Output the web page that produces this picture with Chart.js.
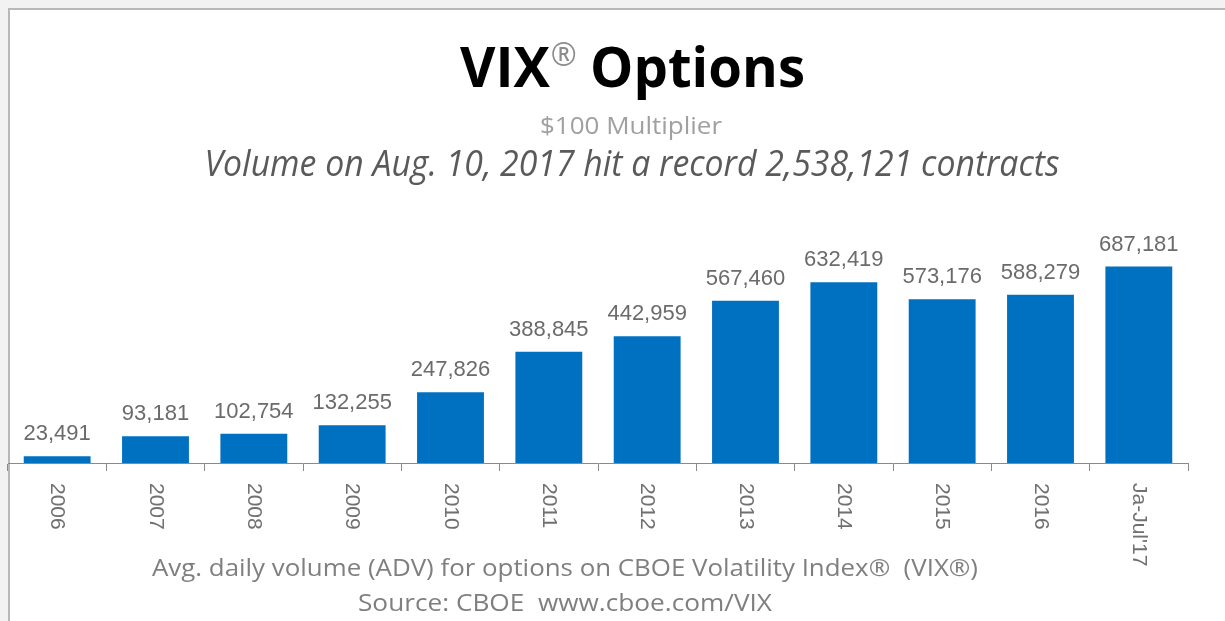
<!DOCTYPE html>
<html>
<head>
<meta charset="utf-8">
<script src="https://cdn.jsdelivr.net/npm/chart.js@4/dist/chart.umd.min.js"></script>
<style>
  html, body { margin: 0; padding: 0; background: #f2f2f2; width: 1225px; height: 621px; overflow: hidden; }
  #frame { position: absolute; left: 8px; top: 8px; right: 0; bottom: 0; background: #fff;
           border-left: 2px solid #b8b8b8; border-top: 2px solid #b8b8b8; }
  #chart { position: absolute; left: 0; top: 0; }
</style>
</head>
<body>
<div id="frame"></div>
<canvas id="chart" width="1225" height="621"></canvas>
<script>
// data
let years = ["2006", "2007", "2008", "2009", "2010", "2011", "2012", "2013", "2014", "2015", "2016", "Ja-Jul'17"];
let adv = [23491, 93181, 102754, 132255, 247826, 388845, 442959, 567460, 632419, 573176, 588279, 687181];

let titleText = "VIX";
let titleMark = "\u00AE";
let titleRest = " Options";
let subText = "$100 Multiplier";
let noteText = "Volume on Aug. 10, 2017 hit a record 2,538,121 contracts";
let footText = "Avg. daily volume (ADV) for options on CBOE Volatility Index\u00AE  (VIX\u00AE)";
let srcText = "Source: CBOE  www.cboe.com/VIX";

// draws text centered on cx, squeezed to the width measured in the picture
function fitText(ctx, text, cx, base, width, font, color) {
  ctx.save();
  ctx.font = font;
  ctx.fillStyle = color;
  ctx.textAlign = "center";
  ctx.textBaseline = "alphabetic";
  let w = ctx.measureText(text).width;
  ctx.translate(cx, base);
  ctx.scale(width / w, 1);
  ctx.fillText(text, 0, 0);
  ctx.restore();
}

let textPlugin = {
  id: "texts",
  afterDraw(chart) {
    let ctx = chart.ctx;

    // title with the grey registered mark
    let big = "bold 56px 'Open Sans'";
    let small = "32px 'Open Sans'";
    ctx.save();
    ctx.font = big;
    let w1 = ctx.measureText(titleText).width;
    let w3 = ctx.measureText(titleRest).width;
    ctx.font = small;
    let w2 = ctx.measureText(titleMark).width;
    let total = w1 + w2 + w3;
    let s = 345 / total;
    ctx.translate(460, 87);
    ctx.scale(s, 1);
    ctx.textBaseline = "alphabetic";
    ctx.textAlign = "left";
    ctx.font = big;
    ctx.fillStyle = "#000";
    ctx.fillText(titleText, 0, 0);
    ctx.font = small;
    ctx.fillStyle = "#8c8c8c";
    ctx.fillText(titleMark, w1 + 1, -21);
    ctx.font = big;
    ctx.fillStyle = "#000";
    ctx.fillText(titleRest, w1 + w2, 0);
    ctx.restore();

    fitText(ctx, subText, 631, 134, 182, "23px 'Open Sans'", "#a0a0a0");
    fitText(ctx, noteText, 632, 176, 855, "italic 36px 'Open Sans'", "#5a5a5a");
    fitText(ctx, footText, 565, 576, 826, "23px 'Open Sans'", "#7f7f7f");
    fitText(ctx, srcText, 565, 611, 414, "23px 'Open Sans'", "#7f7f7f");

    // category labels, reading top to bottom
    let xs = chart.scales.x;
    ctx.save();
    ctx.font = "21px 'Liberation Sans', Arial";
    ctx.fillStyle = "#707070";
    ctx.textAlign = "left";
    ctx.textBaseline = "middle";
    years.forEach((lab, i) => {
      let x = xs.getPixelForTick(i);
      ctx.save();
      ctx.translate(x, chart.chartArea.bottom + 20);
      ctx.rotate(Math.PI / 2);
      ctx.fillText(lab, 0, 0);
      ctx.restore();
    });
    ctx.restore();
  },
  afterDatasetsDraw(chart) {
    // value labels over the bars
    let ctx = chart.ctx;
    let meta = chart.getDatasetMeta(0);
    ctx.save();
    ctx.font = "22px 'Liberation Sans', Arial";
    ctx.fillStyle = "#6b6b6b";
    ctx.textAlign = "center";
    ctx.textBaseline = "alphabetic";
    meta.data.forEach((bar, i) => {
      ctx.fillText(adv[i].toLocaleString("en-US"), bar.x, bar.y - 16);
    });
    ctx.restore();
  }
};

let ctx = document.getElementById("chart").getContext("2d");
let chart = new Chart(ctx, {
  type: "bar",
  data: {
    labels: years,
    datasets: [{
      data: adv,
      backgroundColor: "#0070c0",
      borderWidth: 0,
      barPercentage: 0.68,
      categoryPercentage: 1.0
    }]
  },
  options: {
    responsive: false,
    animation: false,
    layout: { padding: { left: 8, right: 37, top: 200, bottom: 150 } },
    plugins: {
      legend: { display: false },
      tooltip: { enabled: false }
    },
    scales: {
      x: {
        grid: { display: true, drawOnChartArea: false, drawTicks: true, tickLength: 8, color: "#8a8a8a", offset: true },
        border: { display: true, color: "#8a8a8a", width: 1 },
        ticks: { display: false }
      },
      y: {
        display: false,
        min: 0,
        max: 920000
      }
    }
  },
  plugins: [textPlugin]
});
</script>
</body>
</html>
